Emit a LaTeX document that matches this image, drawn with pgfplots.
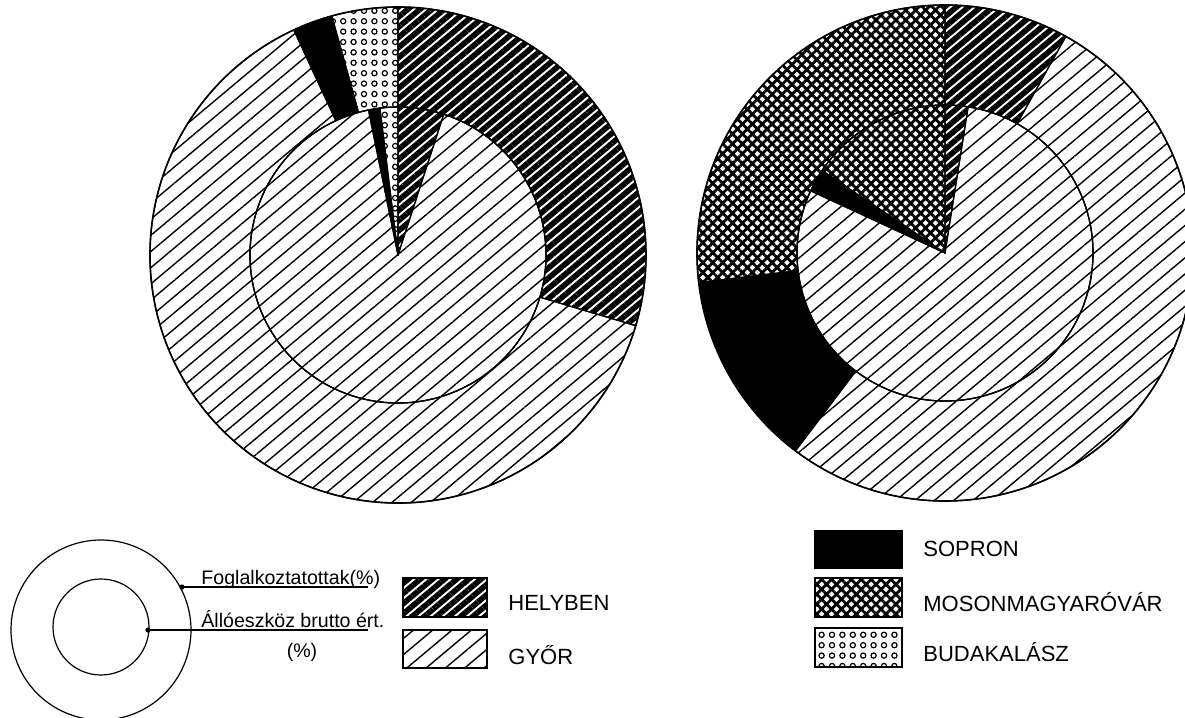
\documentclass[border=0pt]{standalone}
\usepackage{fontspec}
\setmainfont{Liberation Sans}
\usepackage{pgfplots}
\pgfplotsset{compat=1.18}
\usetikzlibrary{patterns.meta}

% small rings on a square grid (Budakalász)
\tikzdeclarepattern{
  name=Rings,
  type=uncolored,
  bottom left={(-2.6pt,-2.6pt)},
  top right={(2.6pt,2.6pt)},
  tile size={(5.2pt,5.2pt)},
  code={
    \pgfsetlinewidth{0.6pt}
    \pgfpathcircle{\pgfpointorigin}{1.3pt}
    \pgfusepathqstroke
  }
}

\tikzset{
  hel/.style={pattern={Lines[angle=40,distance=3.9pt,line width=2.8pt]}},
  gyor/.style={pattern={Lines[angle=40,distance=6.2pt,line width=0.7pt]}},
  sop/.style={fill=black},
  mos/.style={pattern={Hatch[angle=45,distance=3.5pt,line width=1.4pt]}},
  buda/.style={pattern={Rings}},
}

% shares in per cent, clockwise from 12 o'clock
\def\leftouter{29.6/hel, 63.5/gyor, 2.6/sop, 4.3/buda}
\def\leftinner{5.0/hel, 91.8/gyor, 1.25/sop, 1.95/buda}
\def\rightouter{8.1/hel, 52.2/gyor, 12.8/sop, 26.9/mos}
\def\rightinner{2.5/hel, 79.4/gyor, 2.5/sop, 15.6/mos}

% centre x, centre y, inner r, outer r (axis units = px), list
\newcommand\ring[5]{%
  \xdef\curang{90}%
  \foreach \p/\s in #5 {%
    \pgfmathsetmacro\nextang{\curang-3.6*\p}%
    \path[\s, draw=black, line width=0.6pt, shift={(axis cs:#1,#2)}]
      (\curang:{#4*0.5pt}) arc[start angle=\curang, end angle=\nextang, radius={#4*0.5pt}]
      -- (\nextang:{#3*0.5pt}) arc[start angle=\nextang, end angle=\curang, radius={#3*0.5pt}]
      -- cycle;
    \xdef\curang{\nextang}%
  }}

\begin{document}
\begin{tikzpicture}
\begin{axis}[
    name=ax,
    x=0.5pt, y=0.5pt,
    xmin=0, xmax=1185,
    ymin=0, ymax=718,
    y dir=reverse,
    hide axis,
    scale only axis,
  ]
\pgfplotsextra{
  % left chart
  \ring{398}{255}{148}{248}{\leftouter}
  \ring{398}{255}{0.02}{148}{\leftinner}
  \draw[line width=0.8pt] (axis cs:398,255) circle[radius=124pt];
  \draw[line width=0.6pt] (axis cs:398,255) circle[radius=74pt];
  % right chart
  \ring{945}{253}{148}{248}{\rightouter}
  \ring{945}{253}{0.02}{148}{\rightinner}
  \draw[line width=0.8pt] (axis cs:945,253) circle[radius=124pt];
  \draw[line width=0.6pt] (axis cs:945,253) circle[radius=74pt];

  % key ring
  \draw[line width=0.6pt] (axis cs:101,630) circle[radius=45pt];
  \draw[line width=0.6pt] (axis cs:101,627) circle[radius=24pt];
  \draw[line width=0.6pt] (axis cs:182,587) -- (axis cs:368,587);
  \fill (axis cs:182,587) circle[radius=1.3pt];
  \draw[line width=0.6pt] (axis cs:148,630) -- (axis cs:368,630);
  \fill (axis cs:148,630) circle[radius=1.3pt];
  \node[anchor=base west, inner sep=0pt, font=\fontsize{9.8}{11}\selectfont]
    at (axis cs:201,584) {Foglalkoztatottak(\%)};
  \node[anchor=base west, inner sep=0pt, font=\fontsize{9.8}{11}\selectfont]
    at (axis cs:201,627) {Állóeszköz brutto ért.};
  \node[inner sep=0pt, font=\fontsize{9.8}{11}\selectfont]
    at (axis cs:302,652) {(\%)};

  % key boxes
  \path[hel, draw=black, line width=0.8pt] (axis cs:403,578) rectangle (axis cs:487,617);
  \path[gyor, draw=black, line width=0.8pt] (axis cs:403,630) rectangle (axis cs:487,668);
  \path[sop, draw=black, line width=0.8pt] (axis cs:815,531) rectangle (axis cs:902,568);
  \path[mos, draw=black, line width=0.8pt] (axis cs:815,578) rectangle (axis cs:902,617);
  \path[buda, draw=black, line width=0.8pt] (axis cs:815,628) rectangle (axis cs:902,667);
  \node[anchor=west, inner sep=0pt, font=\fontsize{11}{13}\selectfont] at (axis cs:508,603) {HELYBEN};
  \node[anchor=west, inner sep=0pt, font=\fontsize{11}{13}\selectfont] at (axis cs:508,655) {GYŐR};
  \node[anchor=west, inner sep=0pt, font=\fontsize{11}{13}\selectfont] at (axis cs:923,549) {SOPRON};
  \node[anchor=west, inner sep=0pt, font=\fontsize{11}{13}\selectfont] at (axis cs:923,602) {MOSONMAGYARÓVÁR};
  \node[anchor=west, inner sep=0pt, font=\fontsize{11}{13}\selectfont] at (axis cs:923,652) {BUDAKALÁSZ};
}
\end{axis}
\pgfresetboundingbox
\path (ax.south west) rectangle (ax.north east);
\end{tikzpicture}
\end{document}
